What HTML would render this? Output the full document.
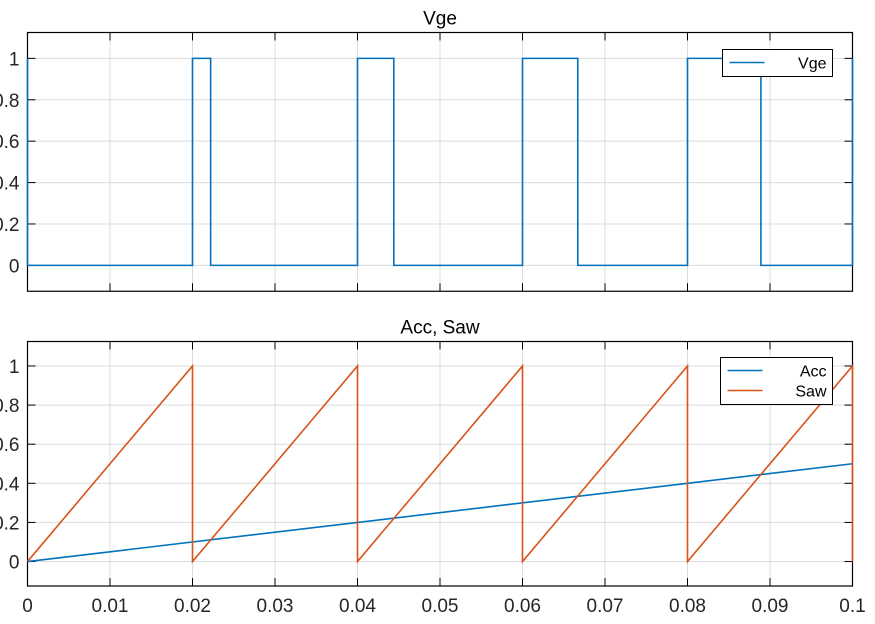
<!DOCTYPE html>
<html><head><meta charset="utf-8"><style>
html,body{margin:0;padding:0;background:#fff;}
svg text{font-family:"Liberation Sans",Arial,sans-serif;}
</style></head><body>
<svg id="c" width="875" height="619" xmlns="http://www.w3.org/2000/svg"></svg>
<script>
const xTicks=[0,0.01,0.02,0.03,0.04,0.05,0.06,0.07,0.08,0.09,0.1];
const xTickLabels=["0","0.01","0.02","0.03","0.04","0.05","0.06","0.07","0.08","0.09","0.1"];
const yTicks=[0,0.2,0.4,0.6,0.8,1];
const yTickLabels=["0","0.2","0.4","0.6","0.8","1"];
const vgeT=[0,0,0.02,0.02,0.0222,0.0222,0.04,0.04,0.0444,0.0444,0.06,0.06,0.0667,0.0667,0.08,0.08,0.0889,0.0889,0.1,0.1];
const vgeV=[1,0,0,1,1,0,0,1,1,0,0,1,1,0,0,1,1,0,0,1];
const accT=[0,0.1];
const accV=[0,0.5];
const sawT=[0,0.02,0.02,0.04,0.04,0.06,0.06,0.08,0.08,0.1,0.1];
const sawV=[0,1,0,1,0,1,0,1,0,1,0];
const NS="http://www.w3.org/2000/svg";
const svg=document.getElementById('c');
function mk(t,a,p){const e=document.createElementNS(NS,t);for(const k in a)e.setAttribute(k,a[k]);(p||svg).appendChild(e);return e;}
const X0=27.5,X1=852.5,xmin=0,xmax=0.1,ymin=-0.125,ymax=1.125;
function xs(v){return X0+(v-xmin)/(xmax-xmin)*(X1-X0);}
function axes(top,bot,title,showX,name){
  const g=mk('g',{});
  
  
  const ys=v=>bot-(v-ymin)/(ymax-ymin)*(bot-top);
  xTicks.forEach((t,i)=>{
    const l=mk('line',{x1:xs(t),x2:xs(t),y1:top,y2:bot,stroke:'#dcdcdc','stroke-width':1},g);
    
    mk('line',{x1:xs(t),x2:xs(t),y1:bot,y2:bot-8,stroke:'#000'},g);
    mk('line',{x1:xs(t),x2:xs(t),y1:top,y2:top+8,stroke:'#000'},g);
    if(showX){const tx=mk('text',{x:xs(t),y:bot+26,'text-anchor':'middle','font-size':19,fill:'#262626'},g);tx.textContent=xTickLabels[i];
      }
  });
  yTicks.forEach((t,i)=>{
    const l=mk('line',{x1:X0,x2:X1,y1:ys(t),y2:ys(t),stroke:'#dcdcdc','stroke-width':1},g);
    
    mk('line',{x1:X0,x2:X0+8,y1:ys(t),y2:ys(t),stroke:'#000'},g);
    mk('line',{x1:X1,x2:X1-8,y1:ys(t),y2:ys(t),stroke:'#000'},g);
    const tx=mk('text',{x:X0-8,y:ys(t)+7,'text-anchor':'end','font-size':19,fill:'#262626'},g);tx.textContent=yTickLabels[i];
    
  });
  const b=mk('rect',{x:X0,y:top,width:X1-X0,height:bot-top,fill:'none',stroke:'#000','stroke-width':1.2},g);
  
  const ti=mk('text',{x:(X0+X1)/2,y:top-8,'text-anchor':'middle','font-size':19,fill:'#000'},g);ti.textContent=title;
  
  return ys;
}
function line(T,V,ys,col,name){
  const d=T.map((t,i)=>(i?'L':'M')+xs(t).toFixed(2)+','+ys(V[i]).toFixed(2)).join('');
  const p=mk('path',{d:d,fill:'none',stroke:col,'stroke-width':1.6});
  
}
function legend(x,y,w,items,name){
  const g=mk('g',{});
  mk('rect',{x:x,y:y,width:w,height:items.length*20+7,fill:'#fff',stroke:'#000','stroke-width':1},g);
  items.forEach((it,i)=>{
    const yy=y+13+i*20;
    mk('line',{x1:x+7,x2:x+42,y1:yy,y2:yy,stroke:it[1],'stroke-width':1.6},g);
    const t=mk('text',{x:x+w-6,y:yy+6,'text-anchor':'end','font-size':16,fill:'#000'},g);t.textContent=it[0];
    
  });
}
const ys1=axes(32.5,291.25,'Vge',false,'vge-axes');
line(vgeT,vgeV,ys1,'#0072bd','vge-line');
legend(722.5,49.5,110,[['Vge','#0072bd']],'vge-legend');
const ys2=axes(341.5,586,'Acc, Saw',true,'acc-saw-axes');
line(accT,accV,ys2,'#0072bd','acc-line');
line(sawT,sawV,ys2,'#d95319','saw-line');
legend(720.5,357.5,112,[['Acc','#0072bd'],['Saw','#d95319']],'acc-saw-legend');
</script>
</body></html>
